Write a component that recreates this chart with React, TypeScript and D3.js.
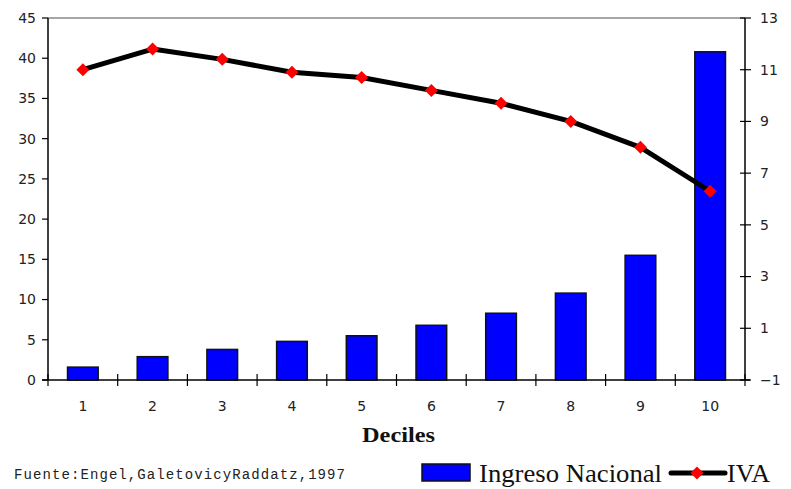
import React from 'react'
import { scaleBand, scaleLinear, line, range } from 'd3'

// deciles and series
const deciles: string[] = ['1', '2', '3', '4', '5', '6', '7', '8', '9', '10']
const ingresoNacional: number[] = [1.6, 2.9, 3.8, 4.8, 5.5, 6.8, 8.3, 10.8, 15.5, 40.8]
const iva: number[] = [11.0, 11.8, 11.4, 10.9, 10.7, 10.2, 9.7, 9.0, 8.0, 6.3]

const leftTicks: number[] = [0, 5, 10, 15, 20, 25, 30, 35, 40, 45]
const rightTicks: number[] = [-1, 1, 3, 5, 7, 9, 11, 13]

const W = 791, H = 489
const margin = { top: 18, right: 46, bottom: 109, left: 48 }
const plotW = W - margin.left - margin.right
const plotH = H - margin.top - margin.bottom

const sans = 'DejaVu Sans, sans-serif'
const serif = 'Liberation Serif, Times New Roman, serif'

export default function App() {
    const x = scaleBand<string>().domain(deciles).range([0, plotW]).paddingInner(0).paddingOuter(0)
    const yL = scaleLinear().domain([0, 45]).range([plotH, 0])
    const yR = scaleLinear().domain([-1, 13]).range([plotH, 0])
    const barW = x.bandwidth() * 0.44

    const pts: [number, number][] = iva.map((v, i) => [x(deciles[i])! + x.bandwidth() / 2, yR(v)])
    const ivaLine = line()(pts) ?? ''

    const diamond = (cx: number, cy: number, r: number) =>
        `M${cx},${cy - r}L${cx + r},${cy}L${cx},${cy + r}L${cx - r},${cy}Z`

    return (
        <svg width={W} height={H} style={{ position: 'absolute', left: 0, top: 0, background: '#fff' }}>
            <g transform={`translate(${margin.left},${margin.top})`}>
                {/* top border */}
                <line x1={0} x2={plotW} y1={0} y2={0} stroke="#888" strokeWidth={1.5} />

                {/* bars */}
                {ingresoNacional.map((v, i) => (
                    <rect key={i}
                        x={x(deciles[i])! + (x.bandwidth() - barW) / 2}
                        y={yL(v)}
                        width={barW}
                        height={plotH - yL(v)}
                        fill="#0000ff" stroke="#111" strokeWidth={1.5} />
                ))}

                {/* IVA line */}
                <path d={ivaLine} fill="none" stroke="#000" strokeWidth={5} strokeLinejoin="round" />
                {pts.map((p, i) => (
                    <path key={i} d={diamond(p[0], p[1], 6.5)} fill="#ff0000" />
                ))}

                {/* left axis */}
                <line x1={0} x2={0} y1={0} y2={plotH} stroke="#000" strokeWidth={1.5} />
                {leftTicks.map(t => (
                    <g key={t} transform={`translate(0,${yL(t)})`}>
                        <line x1={-6} x2={0} stroke="#000" strokeWidth={1.2} />
                        <text x={-12} dy="0.35em" textAnchor="end" fontFamily={sans} fontSize={14} fill="#222">{t}</text>
                    </g>
                ))}

                {/* right axis */}
                <line x1={plotW} x2={plotW} y1={0} y2={plotH} stroke="#000" strokeWidth={1.5} />
                {rightTicks.map(t => (
                    <g key={t} transform={`translate(${plotW},${yR(t)})`}>
                        <line x1={-5} x2={6} stroke="#000" strokeWidth={1.2} />
                        <text x={15} dy="0.35em" textAnchor="start" fontFamily={sans} fontSize={14} fill="#222">
                            {t < 0 ? `\u2212${Math.abs(t)}` : t}
                        </text>
                    </g>
                ))}

                {/* bottom axis */}
                <line x1={-6} x2={plotW + 5} y1={plotH} y2={plotH} stroke="#000" strokeWidth={1.5} />
                {range(deciles.length + 1).map(i => (
                    <line key={i} x1={i * x.step()} x2={i * x.step()} y1={plotH - 6} y2={plotH + 6} stroke="#000" strokeWidth={1.2} />
                ))}
                {deciles.map(d => (
                    <text key={d} x={x(d)! + x.bandwidth() / 2} y={plotH + 31} textAnchor="middle"
                        fontFamily={sans} fontSize={14} fill="#222">{d}</text>
                ))}
                <text x={314} y={plotH + 62} textLength={73} lengthAdjust="spacingAndGlyphs" fontFamily={serif}
                    fontWeight="bold" fontSize={20} fill="#111">Deciles</text>
            </g>

            {/* source */}
            <text x={14} y={479} textLength={331} lengthAdjust="spacing" fontFamily="Liberation Mono, monospace" fontSize={14} fill="#222">
                Fuente:Engel,GaletovicyRaddatz,1997
            </text>

            {/* legend */}
            <rect x={422} y={464} width={48} height={17} fill="#0000ff" stroke="#111" strokeWidth={1.5} />
            <text x={479} y={482} textLength={183} lengthAdjust="spacingAndGlyphs" fontFamily={serif} fontSize={26} fill="#111">Ingreso Nacional</text>
            <line x1={671} x2={725} y1={473} y2={473} stroke="#000" strokeWidth={5} strokeLinecap="round" />
            <path d={diamond(697, 473, 6.5)} fill="#ff0000" />
            <text x={727} y={482} textLength={43} lengthAdjust="spacingAndGlyphs" fontFamily={serif} fontSize={26} fill="#111">IVA</text>
        </svg>
    )
}
